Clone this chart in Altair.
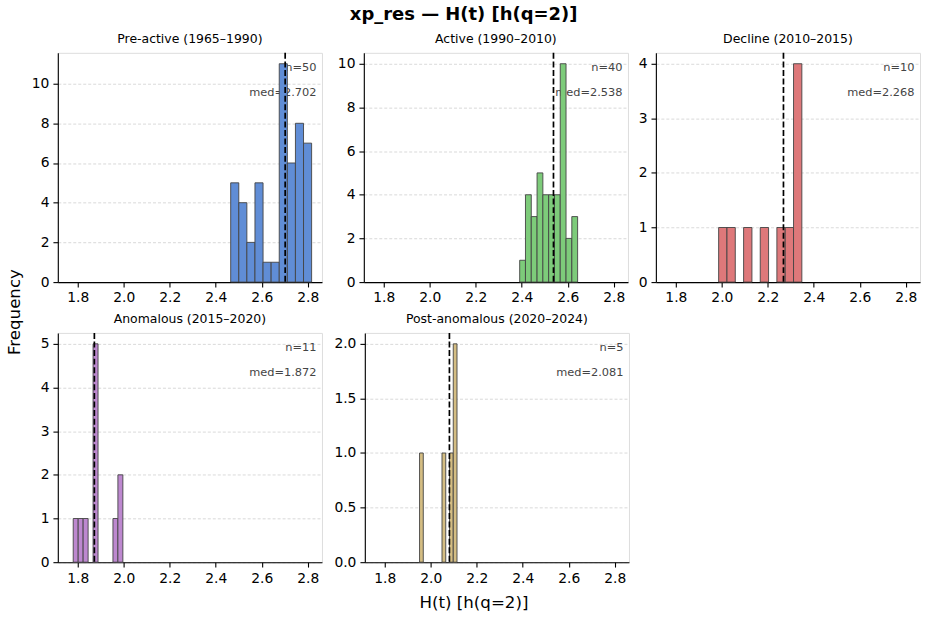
import altair as alt
import pandas as pd
import numpy as np

# ---------------- data ----------------
titles = ["Pre-active (1965–1990)", "Active (1990–2010)", "Decline (2010–2015)",
          "Anomalous (2015–2020)", "Post-anomalous (2020–2024)"]
colors = ["#608dd6", "#7dcb7a", "#de787a", "#bd88cf", "#d4bd83"]
n_values = [50, 40, 10, 11, 5]
medians = [2.702, 2.538, 2.268, 1.872, 2.081]
bin_lo = [2.465, 2.391, 1.986, 1.780, 1.951]
bin_hi = [2.817, 2.643, 2.348, 1.996, 2.114]
counts = [
    [5, 4, 2, 5, 1, 1, 11, 6, 8, 7],
    [1, 4, 3, 5, 4, 4, 4, 10, 2, 3],
    [1, 1, 0, 1, 0, 1, 0, 1, 1, 4],
    [1, 1, 1, 0, 5, 0, 0, 0, 1, 2],
    [1, 0, 0, 0, 0, 0, 1, 0, 1, 2],
]
y_max = [11.55, 10.5, 4.2, 5.25, 2.1]
y_ticks = [[0, 2, 4, 6, 8, 10], [0, 2, 4, 6, 8, 10], [0, 1, 2, 3, 4],
           [0, 1, 2, 3, 4, 5], [0, 0.5, 1.0, 1.5, 2.0]]
y_formats = ["d", "d", "d", "d", ".1f"]
x_ticks = [1.8, 2.0, 2.2, 2.4, 2.6, 2.8]
x_domain = [1.713, 2.862]

W = 265
H = 230
FONT = "DejaVu Sans"
extents = [30, 38, 24, 30, 39]

axis_style = dict(labelFont=FONT, labelFontSize=13.9, labelColor="black",
                  tickColor="black", tickSize=4.9, tickWidth=1.1,
                  domainColor="black", domainWidth=1.1, labelPadding=4.0,
                  labelOverlap=False, title=None)


def panel(i):
    edges = np.linspace(bin_lo[i], bin_hi[i], len(counts[i]) + 1)
    df = pd.DataFrame({"x0": edges[:-1], "x1": edges[1:], "c": counts[i]})
    df = df[df["c"] > 0]
    xs = alt.Scale(domain=x_domain, nice=False, zero=False)
    ys = alt.Scale(domain=[0, y_max[i]], nice=False, zero=True)
    xaxis = alt.Axis(values=x_ticks, format=".1f", grid=False, labelFlush=False,
                     **axis_style)
    yaxis = alt.Axis(values=y_ticks[i], format=y_formats[i], grid=True,
                     gridDash=[3, 2], gridColor="#c8c8c8", gridWidth=0.7,
                     minExtent=extents[i], maxExtent=extents[i], **axis_style)

    bars = alt.Chart(df).mark_rect(fill=colors[i], stroke="#444444", strokeWidth=1.0,
                                   strokeOpacity=0.9).encode(
        x=alt.X("x0:Q", scale=xs, axis=xaxis),
        x2="x1:Q",
        y=alt.Y("c:Q", scale=ys, axis=yaxis),
        y2=alt.datum(0),
    )
    mdf = pd.DataFrame({"m": [medians[i]]})
    rule = alt.Chart(mdf).mark_rule(color="black", strokeDash=[6, 2.6],
                                    strokeWidth=1.7).encode(
        x=alt.X("m:Q", scale=xs, axis=xaxis)
    )
    t1 = alt.Chart(mdf).mark_text(text=f"n={n_values[i]}", align="right", baseline="middle",
                                  font=FONT, fontSize=11.4, color="#444444").encode(
        x=alt.value(W - 5.5), y=alt.value(15.5))
    t2 = alt.Chart(mdf).mark_text(text=f"med={medians[i]:.3f}", align="right",
                                  baseline="middle", font=FONT, fontSize=11.4,
                                  color="#444444").encode(
        x=alt.value(W - 5.5), y=alt.value(40.5))
    return alt.layer(t1, t2, bars, rule).properties(
        width=W, height=H,
        title=alt.TitleParams(titles[i], fontSize=12.5, fontWeight="normal", font=FONT,
                              anchor="middle", offset=7, color="black"))


row1 = alt.hconcat(panel(0), panel(1), panel(2), spacing=2)
row2 = alt.hconcat(panel(3), panel(4), spacing=2)
grid = alt.vconcat(row1, row2, spacing=6).properties(
    title=alt.TitleParams("H(t) [h(q=2)]", orient="bottom", anchor="middle", font=FONT,
                          fontSize=16.7, fontWeight="normal", offset=10, color="black"))
mid = alt.hconcat(grid).properties(
    title=alt.TitleParams("Frequency", orient="left", anchor="middle", font=FONT,
                          fontSize=16.7, fontWeight="normal", offset=4, color="black",
                          dx=10))
chart = alt.vconcat(mid).properties(
    title=alt.TitleParams("xp_res — H(t) [h(q=2)]", anchor="middle", font=FONT,
                          fontSize=18, fontWeight="bold", offset=8, color="black"),
    padding={"left": 6, "top": 5, "right": 5, "bottom": 5},
).configure_view(
    fill="#f8f8f8", stroke="black", strokeWidth=1.1
).configure(background="white")

chart.save("out.html", embed_options={"renderer": "svg", "actions": False})
